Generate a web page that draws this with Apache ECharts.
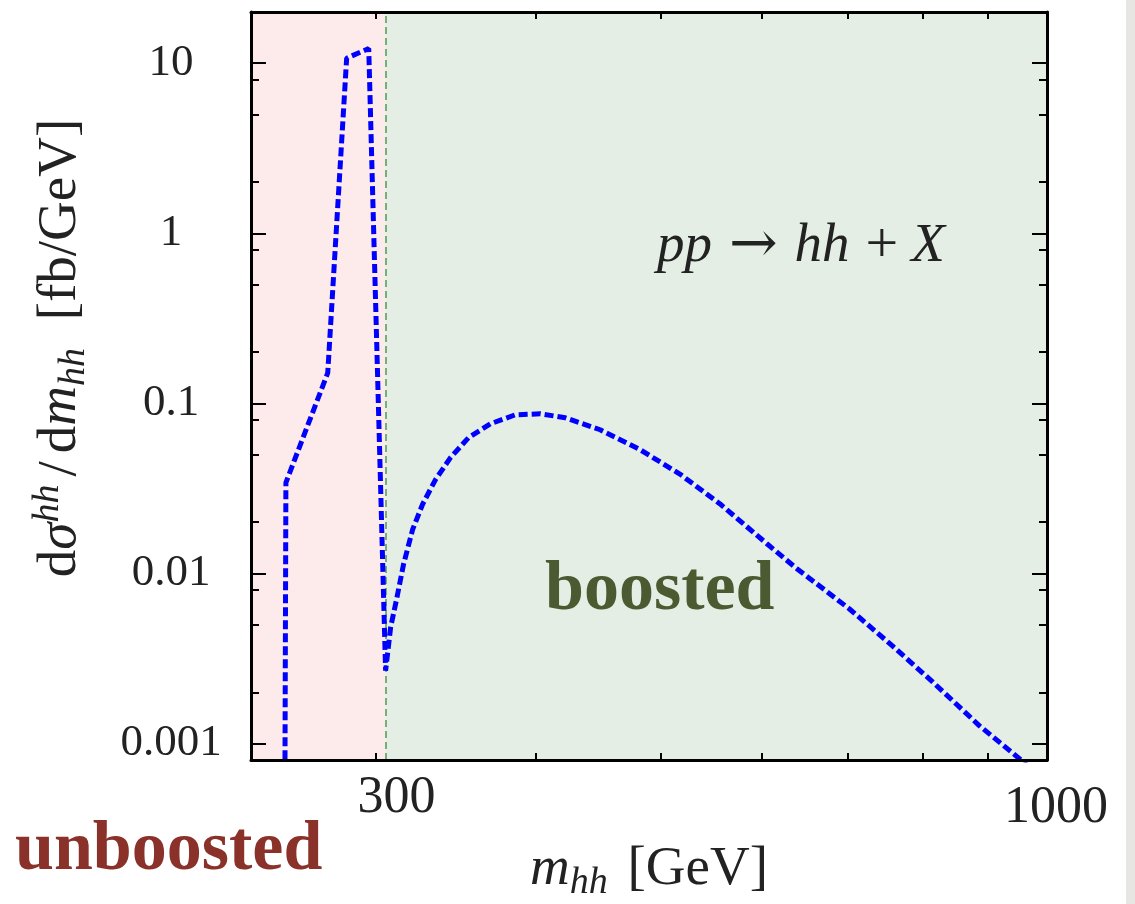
<!DOCTYPE html>
<html>
<head>
<meta charset="utf-8">
<title>hh invariant mass</title>
<script src="https://cdn.jsdelivr.net/npm/echarts@6/dist/echarts.min.js"></script>
<style>
    html, body { margin: 0; padding: 0; background: #fff; }
    #chart { width: 1135px; height: 904px; }
    #edge { position: absolute; top: 0; right: 0; width: 9px; height: 904px; background: #e8e6e2; }
</style>
</head>
<body>
<div id="chart"></div>
<div id="edge"></div>
<script>
// m_hh in GeV and dsigma/dm_hh in fb/GeV
const massGeV = [255, 255.5, 275.4, 284.9, 296.4, 305.5, 308.3, 311.6, 315.5, 320.7,
    326.4, 334.1, 343.2, 354.4, 368.7, 385.5, 403.2, 421.6, 448.8, 482.1,
    517.8, 556.2, 604.9, 638.3, 701.8, 758.0, 814.2, 885.6, 951.3, 977];
const dSigma = [0.0004, 0.0342, 0.151, 10.7, 12.2, 0.00268, 0.00484, 0.00707, 0.01133, 0.01816,
    0.02544, 0.03565, 0.04795, 0.06281, 0.07586, 0.08566, 0.08682, 0.08226, 0.06996, 0.05342,
    0.0384, 0.0257, 0.0150, 0.01070, 0.00618, 0.00375, 0.00231, 0.001275, 0.000817, 0.000686];

// axis ranges and ticks
const xRange = [240, 1000];
const yRange = [0.0008, 20];
const xTicks = [300, 400, 500, 600, 700, 800, 900, 1000];
const xLabels = [300, 1000];
const yMajorTicks = [0.001, 0.01, 0.1, 1, 10];
const yMinorTicks = [0.002, 0.005, 0.008, 0.02, 0.05, 0.08, 0.2, 0.5, 0.8, 2, 5, 8];

// unboosted / boosted split
const regionEdges = [240, 305.5, 1000];

const FONT = '"Liberation Serif", "DejaVu Serif", serif';
const COLORS = {
    curve: '#0000ff',
    unboosted: '#fdeaea',
    boosted: '#e4eee4',
    split: '#4f9a4f',
    unboostedText: '#8a3129',
    boostedText: '#4b5a31'
};

const chart = echarts.init(document.getElementById('chart'));

const yAxisBase = (position, ticks, len, withLine) => ({
    type: 'log', logBase: 10, min: yRange[0], max: yRange[1], position, z: 10,
    axisLine: { show: withLine, onZero: false, lineStyle: { color: '#000', width: 3 } },
    axisTick: { show: true, inside: true, length: len, customValues: ticks, lineStyle: { color: '#000', width: 2 } },
    axisLabel: { show: false },
    splitLine: { show: false }, minorTick: { show: false }
});

const xAxisBase = (position) => ({
    type: 'log', logBase: 10, min: xRange[0], max: xRange[1], position, z: 10,
    axisLine: { show: true, onZero: false, lineStyle: { color: '#000', width: 3 } },
    axisTick: { show: true, inside: true, length: 7, customValues: xTicks, lineStyle: { color: '#000', width: 2 } },
    axisLabel: { show: false },
    splitLine: { show: false }
});

const yLeft = yAxisBase('left', yMajorTicks, 15, true);
yLeft.axisLabel = {
    show: true, customValues: yMajorTicks, align: 'center', margin: 80,
    fontFamily: FONT, fontSize: 45, color: '#222',
    formatter: v => String(v)
};
yLeft.name = '{a|d}{i|σ}{sup|hh}{sl|/}{a|d}{i|m}{sub|hh}{gap| }{a|[fb/GeV]}';
yLeft.nameLocation = 'middle';
yLeft.nameRotate = 90;
yLeft.nameGap = 158;
yLeft.nameTextStyle = {
    padding: [0, 0, 0, 76],
    rich: {
        a: { fontFamily: FONT, fontSize: 55, lineHeight: 64, color: '#222' },
        i: { fontFamily: FONT, fontStyle: 'italic', fontSize: 55, lineHeight: 64, color: '#222' },
        sl: { fontFamily: FONT, fontSize: 55, lineHeight: 64, color: '#222', padding: [0, 8, 0, 8] },
        gap: { fontFamily: FONT, fontSize: 55, lineHeight: 64, padding: [0, 14, 0, 0] },
        sup: { fontFamily: FONT, fontStyle: 'italic', fontSize: 38, lineHeight: 38, verticalAlign: 'top', color: '#222' },
        sub: { fontFamily: FONT, fontStyle: 'italic', fontSize: 38, lineHeight: 38, verticalAlign: 'bottom', color: '#222' }
    }
};

const xBottom = xAxisBase('bottom');
xBottom.axisLabel = {
    show: true, customValues: xLabels, margin: 12,
    formatter: v => v === 300 ? '{a|300}' : '{b|1000}',
    rich: {
        a: { fontFamily: FONT, fontSize: 52, color: '#222', padding: [0, 0, 0, 42] },
        b: { fontFamily: FONT, fontSize: 52, color: '#222', padding: [10, 0, 0, 18] }
    }
};
xBottom.name = '{i|m}{sub|hh}{gap| }{a|[GeV]}';
xBottom.nameLocation = 'middle';
xBottom.nameGap = 78;
xBottom.nameTextStyle = {
    rich: {
        a: { fontFamily: FONT, fontSize: 55, lineHeight: 64, color: '#222' },
        i: { fontFamily: FONT, fontStyle: 'italic', fontSize: 55, lineHeight: 64, color: '#222' },
        gap: { fontFamily: FONT, fontSize: 55, lineHeight: 64, padding: [0, 6, 0, 0] },
        sub: { fontFamily: FONT, fontStyle: 'italic', fontSize: 38, lineHeight: 38, verticalAlign: 'bottom', color: '#222' }
    }
};

chart.setOption({
    animation: false,
    backgroundColor: '#fff',
    grid: { left: 251, right: 88, top: 12, bottom: 144, outerBoundsMode: 'none', containLabel: false },
    xAxis: [xBottom, xAxisBase('top')],
    yAxis: [
        yLeft,
        yAxisBase('left', yMinorTicks, 8, false),
        yAxisBase('right', yMajorTicks, 15, true),
        yAxisBase('right', yMinorTicks, 8, false)
    ],
    graphic: [
        {
            type: 'text', x: 657, y: 247, z: 10,
            style: {
                text: '{i|pp}{ar|→}{i|hh}{pl|+}{i|X}',
                verticalAlign: 'middle',
                rich: {
                    i: { fontFamily: FONT, fontStyle: 'italic', fontSize: 55, fill: '#222' },
                    ar: { fontFamily: '"DejaVu Serif", serif', fontSize: 58, fill: '#222', padding: [0, 17, 0, 17] },
                    pl: { fontFamily: FONT, fontSize: 58, fill: '#222', padding: [0, 13, 0, 16] }
                }
            }
        },
        {
            type: 'text', x: 545, y: 591, z: 10,
            style: { text: 'boosted', font: 'bold 70px ' + FONT, fill: COLORS.boostedText, verticalAlign: 'middle' }
        },
        {
            type: 'text', x: 15, y: 851, z: 10,
            style: { text: 'unboosted', font: 'bold 70px ' + FONT, fill: COLORS.unboostedText, verticalAlign: 'middle' }
        }
    ],
    series: [{
        type: 'line',
        xAxisIndex: 0, yAxisIndex: 0,
        data: massGeV.map((m, i) => [m, dSigma[i]]),
        showSymbol: false, smooth: false, clip: true, z: 5,
        lineStyle: { color: COLORS.curve, width: 5, type: [9, 4], cap: 'butt' },
        markArea: {
            silent: true,
            data: [
                [{ xAxis: regionEdges[0], itemStyle: { color: COLORS.unboosted } }, { xAxis: regionEdges[1] }],
                [{ xAxis: regionEdges[1], itemStyle: { color: COLORS.boosted } }, { xAxis: regionEdges[2] }]
            ]
        },
        markLine: {
            silent: true, symbol: 'none', label: { show: false },
            lineStyle: { color: COLORS.split, width: 1.5, type: [7, 4] },
            data: [{ xAxis: regionEdges[1] }]
        }
    }]
});
</script>
</body>
</html>
